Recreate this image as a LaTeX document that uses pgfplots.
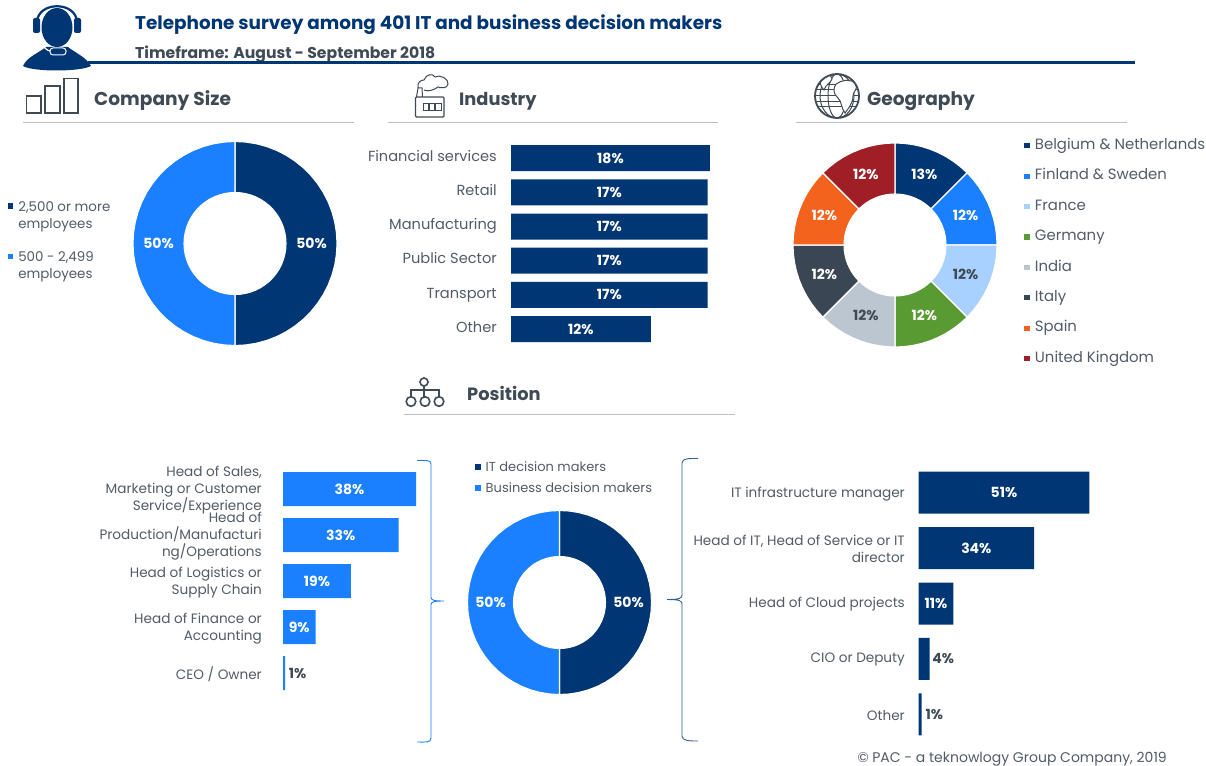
\documentclass[border=0pt]{standalone}
\usepackage{fontspec}
\setmainfont{Poppins}
\usepackage{pgfplots}
\pgfplotsset{compat=1.18}
\usepgfplotslibrary{polar}
\usepackage{pgfplotstable}
\definecolor{pacblue}{HTML}{003673}
\definecolor{pacsky}{HTML}{1A80FF}
\definecolor{pacpale}{HTML}{A9D1FF}
\definecolor{pacgreen}{HTML}{5A9A32}
\definecolor{pacgrey}{HTML}{BCC6D0}
\definecolor{pacslate}{HTML}{3A4653}
\definecolor{pacorange}{HTML}{F4631E}
\definecolor{pacred}{HTML}{A01F27}
\definecolor{pactext}{HTML}{525C66}
\definecolor{pachead}{HTML}{3F4A55}
\newcommand{\lab}{\fontsize{13.6}{17}\selectfont}
\newcommand{\val}{\fontsize{14}{16}\selectfont\bfseries}
\newcommand{\sect}{\fontsize{18.6}{22}\selectfont\bfseries}
\newcommand{\sects}{\fontsize{17.8}{22}\selectfont\bfseries}
\pgfplotstableread{
a r
90 1
84 1
78 1
72 1
66 1
60 1
54 1
48 1
42 1
36 1
30 1
24 1
18 1
12 1
6 1
0 1
-6 1
-12 1
-18 1
-24 1
-30 1
-36 1
-42 1
-48 1
-54 1
-60 1
-66 1
-72 1
-78 1
-84 1
-90 1
-90 .5
-84 .5
-78 .5
-72 .5
-66 .5
-60 .5
-54 .5
-48 .5
-42 .5
-36 .5
-30 .5
-24 .5
-18 .5
-12 .5
-6 .5
0 .5
6 .5
12 .5
18 .5
24 .5
30 .5
36 .5
42 .5
48 .5
54 .5
60 .5
66 .5
72 .5
78 .5
84 .5
90 .5
}\halfright
\pgfplotstableread{
a r
90 1
96 1
102 1
108 1
114 1
120 1
126 1
132 1
138 1
144 1
150 1
156 1
162 1
168 1
174 1
180 1
186 1
192 1
198 1
204 1
210 1
216 1
222 1
228 1
234 1
240 1
246 1
252 1
258 1
264 1
270 1
270 .5
264 .5
258 .5
252 .5
246 .5
240 .5
234 .5
228 .5
222 .5
216 .5
210 .5
204 .5
198 .5
192 .5
186 .5
180 .5
174 .5
168 .5
162 .5
156 .5
150 .5
144 .5
138 .5
132 .5
126 .5
120 .5
114 .5
108 .5
102 .5
96 .5
90 .5
}\halfleft
\pgfplotsset{
  donut/.style={scale only axis, hide axis, xmin=-1, xmax=1, ymin=-1, ymax=1, clip=false, anchor=center,
    legend cell align=left,
    legend image code/.code={\path (0pt,0pt) -- (9pt,0pt); \fill[##1] (0pt,-3.2pt) rectangle (6.4pt,3.2pt);}},
  seg/.style={data cs=polar, draw=white, line width=1.1pt, mark=none},
  dlabel/.style={forget plot, data cs=polar, draw=none, mark=none, point meta=explicit symbolic, nodes near coords,
    every node near coord/.style={anchor=center, inner sep=0pt, font=\val, text=#1}},
  hbars/.style={scale only axis, xmin=0, ymin=-0.5, y dir=reverse, clip=false, anchor=north west,
    axis line style={draw=none}, major tick length=0pt, xtick=\empty, ytick={0,...,5},
    y tick label style={font=\lab, text=pactext, align=right, inner sep=0pt}},
  bar/.style={xbar, bar width=#1, bar shift=0pt, draw=none},
  blabel/.style={forget plot, draw=none, mark=none, point meta=explicit symbolic, nodes near coords,
    every node near coord/.style={anchor=center, inner sep=0pt, font=\val, text=#1}},
}
\begin{document}
\begin{tikzpicture}[x=1pt,y=-1pt]
\path[use as bounding box,fill=white] (0,0) rectangle (1206,765);

% header
\node[anchor=base west,inner sep=0pt,text=pacblue,font=\fontsize{18.4}{20}\selectfont\bfseries] at (135,29.5) {Telephone survey among 401 IT and business decision makers};
\node[anchor=base west,inner sep=0pt,text=pachead,font=\fontsize{15.65}{18}\selectfont\bfseries] at (135,58.5) {Timeframe: August - September 2018};
\draw[pacblue,line width=3pt] (88,63) -- (1135,63);
% headset icon
\fill[pacblue] (23,66) .. controls (27,57) and (37,54) .. (46,47) -- (68,47) .. controls (77,54) and (86,57) .. (91,66) .. controls (80,72) and (33,72) .. (23,66) -- cycle;
\fill[pacblue] (57,27.5) ellipse (15.5 and 19.5);
\draw[pacblue,line width=2.2pt] (37,22) .. controls (38,1) and (76,1) .. (77,22);
\fill[pacblue,rounded corners=2pt] (33,18) rectangle (40,33);
\fill[pacblue,rounded corners=2pt] (74,18) rectangle (81,33);
\draw[white,line width=1.2pt] (38,33) .. controls (40,46) and (46,50) .. (52,52);
\filldraw[fill=pacblue,draw=white,line width=1pt,rounded corners=3pt] (50,48) rectangle (66,55);

% section heads
\node[anchor=base west,inner sep=0pt,text=pachead,font=\sect] at (94,106) {Company Size};
\node[anchor=base west,inner sep=0pt,text=pachead,font=\sects] at (459,106) {Industry};
\node[anchor=base west,inner sep=0pt,text=pachead,font=\sect] at (867,106) {Geography};
\node[anchor=base west,inner sep=0pt,text=pachead,font=\sects] at (467,400) {Position};
\draw[black!25,line width=1pt] (23,122) -- (354,122);
\draw[black!25,line width=1pt] (388,122) -- (718,122);
\draw[black!25,line width=1pt] (796,122) -- (1127,122);
\draw[black!25,line width=1pt] (404,414) -- (735,414);

% bars icon
\draw[pachead,line width=1.4pt] (26.5,96) rectangle (41,113);
\draw[pachead,line width=1.4pt] (45,86) rectangle (60,113);
\draw[pachead,line width=1.4pt] (64,78.5) rectangle (78,113);
% factory icon
\draw[pachead,line width=1.2pt,rounded corners=1pt] (415.5,97) rectangle (444,117);
\draw[pachead,line width=1pt] (423,104) rectangle (428,111) (429,104) rectangle (434,111) (435,104) rectangle (441,111);
\draw[pachead,line width=1pt] (416.5,97) -- (418,88) -- (422,88) -- (422.5,97);
\draw[pachead,line width=1pt] (418,88) .. controls (417,82) and (421,80) .. (424,80) .. controls (426,74) and (433,73) .. (435,77) .. controls (440,74) and (449,79) .. (448,84) .. controls (447,89) and (441,88) .. (438,87) .. controls (434,90) and (428,92) .. (424,90);
% globe icon
\begin{scope}
\clip (837,96) circle (22);
\draw[pachead,line width=1pt] (815,85) -- (859,85) (815,90) -- (859,90) (815,96) -- (859,96) (815,102) -- (859,102) (815,107) -- (859,107);
\draw[pachead,line width=1pt] (837,96) ellipse (9 and 22) (837,96) ellipse (17 and 22);
\filldraw[fill=white,draw=pachead,line width=1pt] (836,84) .. controls (842,80) and (850,78) .. (856,84) .. controls (858,90) and (853,91) .. (853,96) .. controls (853,104) and (847,110) .. (845,113) .. controls (841,108) and (842,102) .. (838,98) .. controls (833,94) and (833,88) .. (836,84) -- cycle;
\filldraw[fill=white,draw=pachead,line width=1pt] (820,78) .. controls (825,74) and (832,74) .. (832,79) .. controls (830,84) and (826,84) .. (824,90) .. controls (821,87) and (819,82) .. (820,78) -- cycle;
\end{scope}
\draw[pachead,line width=1.8pt] (837,96) circle (22);
% org icon
\draw[pachead,line width=1.6pt] (424,382) circle (4);
\draw[pachead,line width=1.6pt] (424,386) -- (424,398) (411,396) -- (411,390) -- (439,390) -- (439,396);
\draw[pachead,line width=1.6pt] (411,401.5) circle (4.8) (425,401.5) circle (4.8) (439,401.5) circle (4.8);

% company size
\begin{axis}[donut, at={(235pt,-243.5pt)}, width=204pt, height=204pt,
  legend style={at={(-0.62,0.725)}, anchor=north west, draw=none, fill=none, inner sep=0pt, row sep=34pt,
    font=\fontsize{13.4}{17}\selectfont, text=pactext, nodes={inner sep=1.5pt}}]
\addplot[seg, fill=pacblue] table[x=a,y=r] {\halfright} -- cycle;
\addlegendentry{\begin{tabular}[t]{@{}l@{}}2,500 or more\\employees\end{tabular}}
\addplot[seg, fill=pacsky] table[x=a,y=r] {\halfleft} -- cycle;
\addlegendentry{\begin{tabular}[t]{@{}l@{}}500 - 2,499\\employees\end{tabular}}
\addplot[dlabel=white] coordinates {(0,.75)[50\%] (180,.75)[50\%]};
\end{axis}

% industry
\begin{axis}[hbars, at={(511pt,-141pt)}, width=210pt, height=205.2pt, xmax=18.47, ymax=5.5,
  yticklabels={Financial services,Retail,Manufacturing,Public Sector,Transport,Other},
  y tick label style={xshift=-14pt, yshift=0.5pt, text height=11pt, text depth=3.5pt, font=\fontsize{14.6}{17}\selectfont}]
\addplot[bar=26pt, fill=pacblue] coordinates {(17.5,0)(17.3,1)(17.3,2)(17.3,3)(17.3,4)(12.3,5)};
\addplot[blabel=white] coordinates {(8.75,0)[18\%] (8.65,1)[17\%] (8.65,2)[17\%] (8.65,3)[17\%] (8.65,4)[17\%] (6.15,5)[12\%]};
\end{axis}

% geography
\begin{axis}[donut, at={(895pt,-245pt)}, width=204pt, height=204pt,
  legend style={at={(1.128,1.03)}, anchor=north west, draw=none, fill=none, inner sep=0pt, row sep=13pt,
    font=\fontsize{14.9}{17}\selectfont, text=pactext, nodes={inner sep=1.5pt, text height=11pt, text depth=3.4pt}}]
\addplot[seg, fill=pacblue] coordinates {(90,1)(85,1)(80,1)(75,1)(70,1)(65,1)(60,1)(55,1)(50,1)(45,1)(45,.5)(50,.5)(55,.5)(60,.5)(65,.5)(70,.5)(75,.5)(80,.5)(85,.5)(90,.5)} -- cycle;
\addlegendentry{Belgium \& Netherlands}
\addplot[seg, fill=pacsky] coordinates {(45,1)(40,1)(35,1)(30,1)(25,1)(20,1)(15,1)(10,1)(5,1)(0,1)(0,.5)(5,.5)(10,.5)(15,.5)(20,.5)(25,.5)(30,.5)(35,.5)(40,.5)(45,.5)} -- cycle;
\addlegendentry{Finland \& Sweden}
\addplot[seg, fill=pacpale] coordinates {(0,1)(-5,1)(-10,1)(-15,1)(-20,1)(-25,1)(-30,1)(-35,1)(-40,1)(-45,1)(-45,.5)(-40,.5)(-35,.5)(-30,.5)(-25,.5)(-20,.5)(-15,.5)(-10,.5)(-5,.5)(0,.5)} -- cycle;
\addlegendentry{France}
\addplot[seg, fill=pacgreen] coordinates {(-45,1)(-50,1)(-55,1)(-60,1)(-65,1)(-70,1)(-75,1)(-80,1)(-85,1)(-90,1)(-90,.5)(-85,.5)(-80,.5)(-75,.5)(-70,.5)(-65,.5)(-60,.5)(-55,.5)(-50,.5)(-45,.5)} -- cycle;
\addlegendentry{Germany}
\addplot[seg, fill=pacgrey] coordinates {(270,1)(265,1)(260,1)(255,1)(250,1)(245,1)(240,1)(235,1)(230,1)(225,1)(225,.5)(230,.5)(235,.5)(240,.5)(245,.5)(250,.5)(255,.5)(260,.5)(265,.5)(270,.5)} -- cycle;
\addlegendentry{India}
\addplot[seg, fill=pacslate] coordinates {(225,1)(220,1)(215,1)(210,1)(205,1)(200,1)(195,1)(190,1)(185,1)(180,1)(180,.5)(185,.5)(190,.5)(195,.5)(200,.5)(205,.5)(210,.5)(215,.5)(220,.5)(225,.5)} -- cycle;
\addlegendentry{Italy}
\addplot[seg, fill=pacorange] coordinates {(180,1)(175,1)(170,1)(165,1)(160,1)(155,1)(150,1)(145,1)(140,1)(135,1)(135,.5)(140,.5)(145,.5)(150,.5)(155,.5)(160,.5)(165,.5)(170,.5)(175,.5)(180,.5)} -- cycle;
\addlegendentry{Spain}
\addplot[seg, fill=pacred] coordinates {(135,1)(130,1)(125,1)(120,1)(115,1)(110,1)(105,1)(100,1)(95,1)(90,1)(90,.5)(95,.5)(100,.5)(105,.5)(110,.5)(115,.5)(120,.5)(125,.5)(130,.5)(135,.5)} -- cycle;
\addlegendentry{United Kingdom}
\addplot[dlabel=white] coordinates {(67.5,.75)[13\%] (22.5,.75)[12\%] (-67.5,.75)[12\%] (202.5,.75)[12\%] (157.5,.75)[12\%] (112.5,.75)[12\%]};
\addplot[dlabel=pachead] coordinates {(-22.5,.75)[12\%] (247.5,.75)[12\%]};
\end{axis}

% position, business side
\begin{axis}[hbars, at={(283pt,-466pt)}, width=140pt, height=230pt, xmax=40, ymax=4.5,
  ytick={0,...,4},
  yticklabels={{Head of Sales,\\Marketing or Customer\\Service/Experience},{Head of\\Production/Manufacturi\\ng/Operations},{Head of Logistics or\\Supply Chain},{Head of Finance or\\Accounting},CEO / Owner},
  y tick label style={xshift=-21pt, yshift=-1.5pt}]
\addplot[bar=34pt, fill=pacsky] coordinates {(38,0)(33,1)(19.4,2)(9.3,3)(0.6,4)};
\addplot[blabel=white] coordinates {(19,0)[38\%] (16.5,1)[33\%] (9.7,2)[19\%] (4.65,3)[9\%]};
\addplot[blabel=pachead] coordinates {(4.2,4)[1\%]};
\end{axis}

% position, donut
\begin{axis}[donut, at={(559.5pt,-602.5pt)}, width=184pt, height=184pt,
  legend style={at={(0.035,1.276)}, anchor=north west, draw=none, fill=none, inner sep=0pt, row sep=6.5pt,
    font=\fontsize{13}{17}\selectfont, text=pactext, nodes={inner sep=1.5pt}}]
\addplot[seg, fill=pacblue] table[x=a,y=r] {\halfright} -- cycle;
\addlegendentry{IT decision makers}
\addplot[seg, fill=pacsky] table[x=a,y=r] {\halfleft} -- cycle;
\addlegendentry{Business decision makers}
\addplot[dlabel=white] coordinates {(0,.75)[50\%] (180,.75)[50\%]};
\end{axis}

% position, IT side
\begin{axis}[hbars, at={(918.5pt,-465pt)}, width=180pt, height=277pt, xmax=53.7, ymax=4.5,
  ytick={0,...,4},
  yticklabels={IT infrastructure manager,{Head of IT, Head of Service or IT\\director},Head of Cloud projects,CIO or Deputy,Other},
  y tick label style={xshift=-13.5pt, yshift=-1pt}]
\addplot[bar=42pt, fill=pacblue] coordinates {(51,0)(34.5,1)(10.4,2)(3.3,3)(0.9,4)};
\addplot[blabel=white] coordinates {(25.5,0)[51\%] (17.25,1)[34\%] (5.2,2)[11\%]};
\addplot[blabel=pachead] coordinates {(7.4,3)[4\%] (4.7,4)[1\%]};
\end{axis}

% brackets
\draw[pacsky,line width=0.9pt] (417,460.5) .. controls (425,460.5) and (431,459.5) .. (431,464) -- (431,597) .. controls (431,600) and (433,601) .. (444,601) .. controls (433,601) and (431,602) .. (431,605) -- (431,738) .. controls (431,743) and (425,742) .. (417,742);
\draw[pacblue!80,line width=0.9pt] (698,458.5) .. controls (690,458.5) and (682,458) .. (682,463) -- (682,595) .. controls (682,598) and (680,599.5) .. (667,599.5) .. controls (680,599.5) and (682,601) .. (682,604) -- (682,736) .. controls (682,741) and (690,741) .. (698,741);

\node[anchor=base east,inner sep=0pt,text=pactext,font=\fontsize{14}{16}\selectfont] at (1167,762) {© PAC - a teknowlogy Group Company, 2019};
\end{tikzpicture}
\end{document}
